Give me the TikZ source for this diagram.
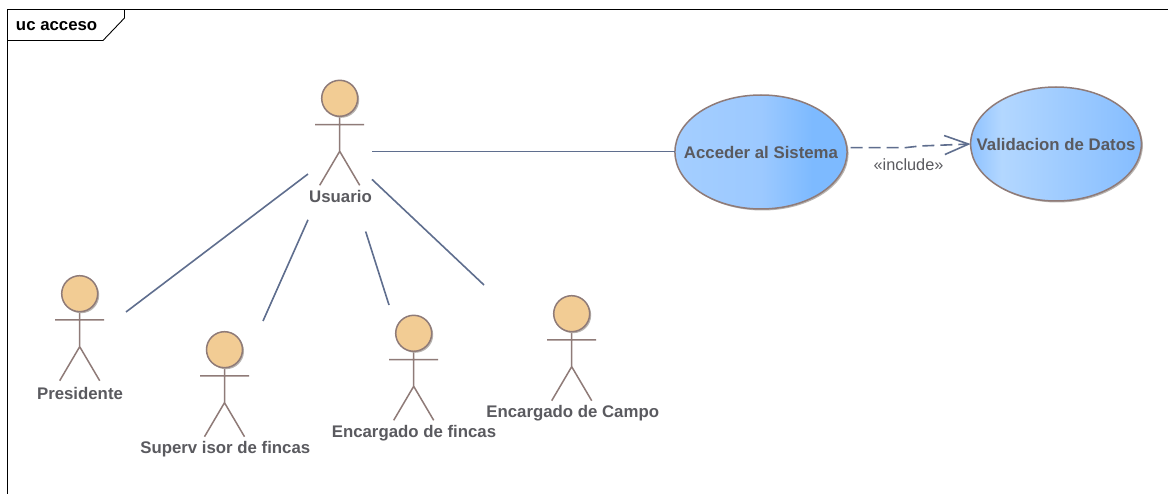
\documentclass[tikz,border=0pt]{standalone}
\usepackage{fontspec}
\setmainfont{Liberation Sans}
\usetikzlibrary{shapes.geometric,arrows.meta,calc,shadows}
\definecolor{conn}{HTML}{5F6E8E}
\definecolor{stroke}{HTML}{8F7B78}
\definecolor{headfill}{HTML}{F2CC94}
\definecolor{labelgray}{HTML}{5A5A5F}
\definecolor{shadowgray}{HTML}{B8B4B0}
\definecolor{ucAa}{HTML}{A4CEFF}
\definecolor{ucAb}{HTML}{9CC9FF}
\definecolor{ucAc}{HTML}{7DBAFF}
\definecolor{ucBa}{HTML}{8EC2FF}
\definecolor{ucBb}{HTML}{B3D7FF}
\definecolor{ucBc}{HTML}{85BDFF}
\pgfdeclarehorizontalshading{ucA}{100bp}{color(0bp)=(ucAa); color(25bp)=(ucAa); color(50bp)=(ucAb); color(65bp)=(ucAc); color(100bp)=(ucAc)}
\pgfdeclarehorizontalshading{ucB}{100bp}{color(0bp)=(ucBa); color(25bp)=(ucBa); color(34bp)=(ucBb); color(75bp)=(ucBc); color(100bp)=(ucBc)}
\tikzset{
  x=1pt,y=-1pt,
  every node/.style={font=\fontsize{16.3}{18}\selectfont,inner sep=0pt,outer sep=0pt},
  frameline/.style={draw=black,line width=1.1pt},
  actorline/.style={draw=stroke,line width=1.5pt},
  actorhead/.style={circle,draw=stroke,line width=1.5pt,fill=headfill,minimum size=36pt,
    general shadow={shadow xshift=1.5pt,shadow yshift=-1.5pt,fill=shadowgray}},
  actorbox/.style={rectangle,draw=none,fill=none},
  actorlabel/.style={text=labelgray,font=\fontsize{16.8}{18}\selectfont\bfseries},
  usecase/.style={ellipse,draw=stroke,line width=1.5pt,inner ysep=0pt,minimum height=114pt,
    general shadow={shadow xshift=1.5pt,shadow yshift=-1.5pt,fill=shadowgray},
    text=labelgray,font=\fontsize{16.8}{18}\selectfont\bfseries},
  conn/.style={draw=conn,line width=1.6pt},
  pics/stickman/.style={code={
    \draw[actorline] (0,18.5) -- (0,53) (-24.5,26.3) -- (24.5,26.3)
      (-20,87) -- (0,53) -- (20,87);
  }}
}
\begin{document}
\begin{tikzpicture}
\useasboundingbox (0,0) rectangle (1168,494);
\fill[white] (0,0) rectangle (1168,494);
% frame
\draw[frameline] (7.5,494) -- (7.5,9.5) -- (1168,9.5);
\draw[frameline,line width=0.9pt] (7.5,40.5) -- (103,40.5) -- (124.5,18) -- (124.5,9.5);
\node[anchor=west,font=\fontsize{16.8}{18}\selectfont\bfseries,text=black] (frametitle) at (16,25.7) {uc acceso};
% actors
\pic at (339.7,98.3) {stickman};
\node[actorhead] (usuarioHead) at (339.7,98.3) {};
\node[actorlabel] (usuarioLabel) at (340.5,196) {Usuario};
\pic at (79.7,293.7) {stickman};
\node[actorhead] (presHead) at (79.7,293.7) {};
\node[actorlabel] (presLabel) at (80,393.7) {Presidente};
\pic at (224.5,349.7) {stickman};
\node[actorhead] (supHead) at (224.5,349.7) {};
\node[actorlabel] (supLabel) at (225.3,449.5) {Superv isor de fincas};
\pic at (413.7,333.3) {stickman};
\node[actorhead] (finHead) at (413.7,333.3) {};
\node[actorlabel] (finLabel) at (414,433) {Encargado de fincas};
\pic at (571.7,313.7) {stickman};
\node[actorhead] (camHead) at (571.7,313.7) {};
\node[actorlabel] (camLabel) at (572.7,413.5) {Encargado de Campo};
% invisible actor extents
\node[actorbox,minimum width=64pt,minimum height=149pt] (usuario) at (340,157) {};
\node[actorbox,minimum width=92pt,minimum height=112pt] (pres) at (80,368) {};
\node[actorbox,minimum width=92pt,minimum height=112pt] (sup) at (217,377) {};
\node[actorbox,minimum width=50pt,minimum height=112pt] (fin) at (414,361) {};
\node[actorbox,minimum width=100pt,minimum height=112pt] (cam) at (534,341) {};
% use cases
\node[usecase,shade,shading=ucA,inner xsep=-16.2pt] (acceder) at (761,152) {Acceder al Sistema};
\node[usecase,shade,shading=ucB,inner xsep=-19pt] (valid) at (1056,144) {Validacion de Datos};
% connectors
\coordinate (uEast) at (usuario.10.6);
\draw[conn] (uEast) -- (acceder.west |- uEast);
\draw[conn] (usuario.208) -- (pres.north east);
\draw[conn] (usuario.243) -- (sup.north east);
\draw[conn] (usuario.-71.8) -- (fin.north west);
\draw[conn] (usuario.-35.9) -- (cam.north west);
\coordinate (incStart) at ($(acceder.east)+(3.5,-4.3)$);
\coordinate (incBend1) at (905,147.7);
\coordinate (incBend2) at (920,146);
\coordinate (incEnd) at (valid.west);
\draw[conn,dash pattern=on 12pt off 6pt,-{Straight Barb[length=24pt,width=19pt,line width=1.6pt]}] (incStart) -- (incBend1) -- (incBend2) -- (incEnd);
\node[text=labelgray] (incLabel) at (908.5,165) {«include»};
\end{tikzpicture}
\end{document}
